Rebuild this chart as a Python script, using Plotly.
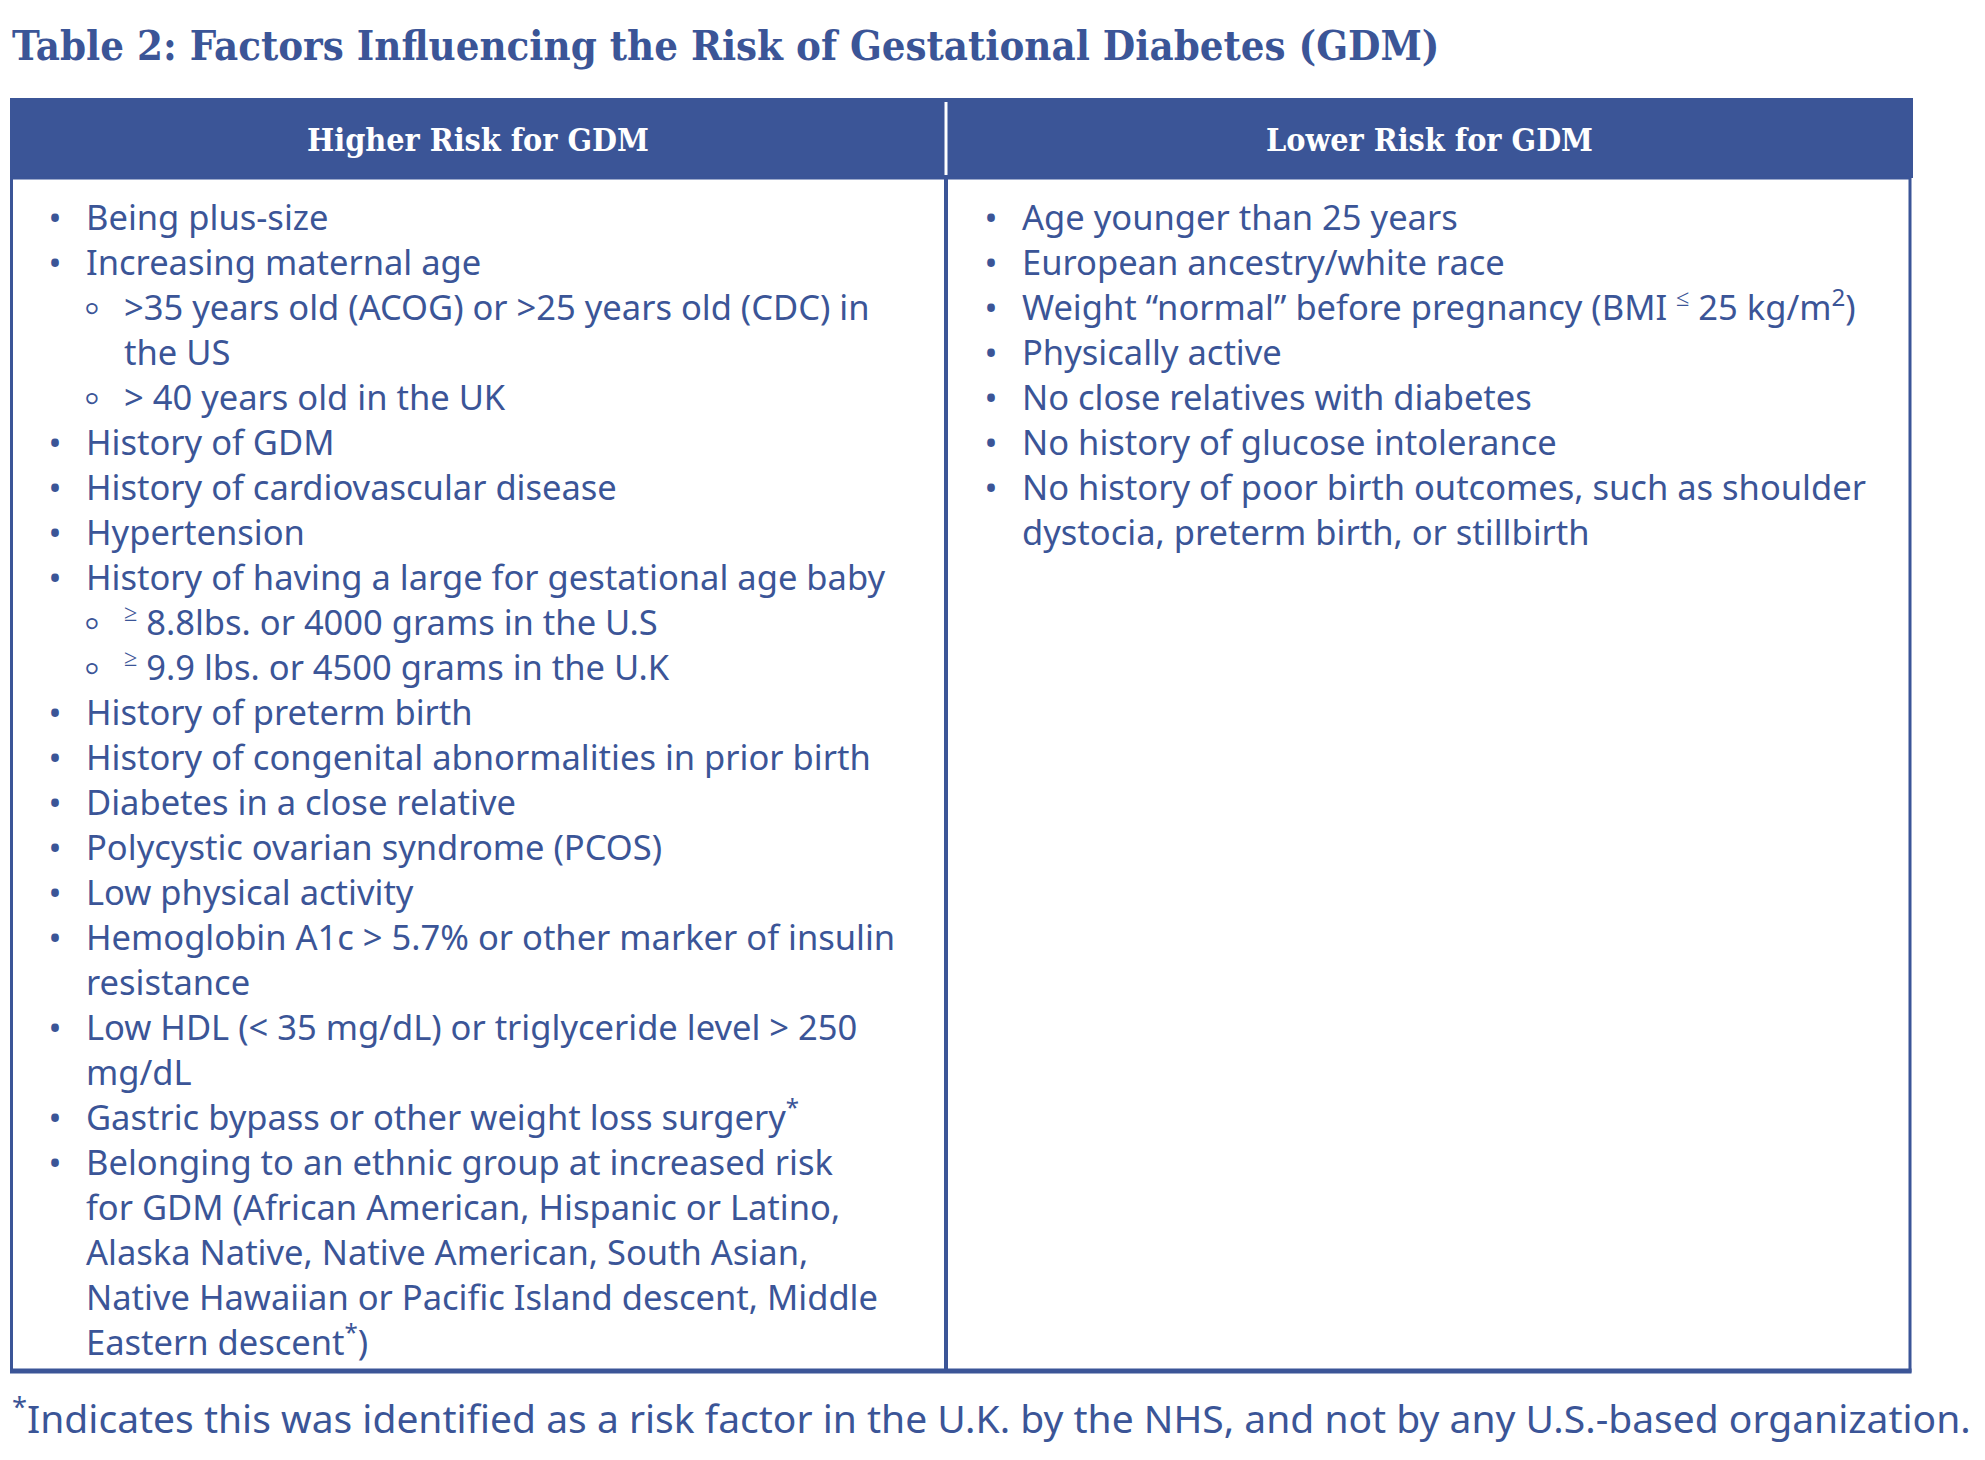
import plotly.graph_objects as go

BLUE = "#3b5597"
W, H = 1985, 1460
PAGE_OFFSET = 8  # browser body margin, so axis units equal screen pixels

TITLE = "Table 2: Factors Influencing the Risk of Gestational Diabetes (GDM)"
HEADERS = ["Higher Risk for GDM", "Lower Risk for GDM"]
FOOTNOTE = ("<sup>*</sup>Indicates this was identified as a risk factor in the U.K. "
            "by the NHS, and not by any U.S.-based organization.")

# (level, wrapped lines) - wrapping kept as in the printed table
HIGHER_RISK = [
    (1, ["Being plus-size"]),
    (1, ["Increasing maternal age"]),
    (2, [">35 years old (ACOG) or >25 years old (CDC) in", "the US"]),
    (2, ["> 40 years old in the UK"]),
    (1, ["History of GDM"]),
    (1, ["History of cardiovascular disease"]),
    (1, ["Hypertension"]),
    (1, ["History of having a large for gestational age baby"]),
    (2, ["<sup>≥</sup> 8.8lbs. or 4000 grams in the U.S"]),
    (2, ["<sup>≥</sup> 9.9 lbs. or 4500 grams in the U.K"]),
    (1, ["History of preterm birth"]),
    (1, ["History of congenital abnormalities in prior birth"]),
    (1, ["Diabetes in a close relative"]),
    (1, ["Polycystic ovarian syndrome (PCOS)"]),
    (1, ["Low physical activity"]),
    (1, ["Hemoglobin A1c > 5.7% or other marker of insulin", "resistance"]),
    (1, ["Low HDL (< 35 mg/dL) or triglyceride level > 250", "mg/dL"]),
    (1, ["Gastric bypass or other weight loss surgery<sup>*</sup>"]),
    (1, ["Belonging to an ethnic group at increased risk",
         "for GDM (African American, Hispanic or Latino,",
         "Alaska Native, Native American, South Asian,",
         "Native Hawaiian or Pacific Island descent, Middle",
         "Eastern descent<sup>*</sup>)"]),
]

LOWER_RISK = [
    (1, ["Age younger than 25 years"]),
    (1, ["European ancestry/white race"]),
    (1, ["Weight “normal” before pregnancy (BMI <sup>≤</sup> 25 kg/m<sup>2</sup>)"]),
    (1, ["Physically active"]),
    (1, ["No close relatives with diabetes"]),
    (1, ["No history of glucose intolerance"]),
    (1, ["No history of poor birth outcomes, such as shoulder",
         "dystocia, preterm birth, or stillbirth"]),
]

# layout (pixels)
TBL_L, TBL_R, TBL_T, HDR_B, TBL_B = 10, 1913, 98, 178, 1371
DIV_X = 946
ROW0, ROW_H = 221.5, 45.0
BODY_FONT = "Noto Sans"
SLAB_FONT = "DejaVu Serif Condensed"
BODY_SIZE = 34.5


def flatten(items):
    rows = []
    for level, lines in items:
        for k, line in enumerate(lines):
            rows.append((level, line, k == 0))
    return rows


def column_traces(items, x0):
    rows = flatten(items)
    bullet_x = {1: x0 + 45, 2: x0 + 82}
    bullet_sym = {1: "•", 2: "◦"}
    bullet_size = {1: BODY_SIZE, 2: BODY_SIZE + 12}
    text_x = {1: x0 + 76, 2: x0 + 114}
    ys = [ROW0 + i * ROW_H for i in range(len(rows))]
    bx, by, bt, bs = [], [], [], []
    for (level, _, first), y in zip(rows, ys):
        if first:
            bx.append(bullet_x[level])
            by.append(y)
            bt.append(bullet_sym[level])
            bs.append(bullet_size[level])
    bullets = go.Scatter(x=bx, y=by, text=bt, mode="text", textposition="middle center",
                         textfont=dict(family=BODY_FONT, size=bs, color=BLUE),
                         hoverinfo="skip", showlegend=False)
    texts = go.Scatter(x=[text_x[r[0]] for r in rows], y=ys, text=[r[1] for r in rows],
                       mode="text", textposition="middle right",
                       textfont=dict(family=BODY_FONT, size=BODY_SIZE, color=BLUE),
                       hoverinfo="skip", showlegend=False)
    return [bullets, texts]


fig = go.Figure()
for tr in column_traces(HIGHER_RISK, TBL_L) + column_traces(LOWER_RISK, DIV_X):
    fig.add_trace(tr)

shapes = [
    dict(type="rect", x0=TBL_L, x1=TBL_R, y0=TBL_T, y1=HDR_B, fillcolor=BLUE,
         line=dict(width=0), layer="below"),
    dict(type="rect", x0=TBL_L + 1.5, x1=TBL_R - 3, y0=HDR_B, y1=TBL_B,
         line=dict(color=BLUE, width=3)),
    dict(type="line", x0=TBL_L, x1=TBL_R - 1.5, y0=TBL_B, y1=TBL_B,
         line=dict(color=BLUE, width=5)),
    dict(type="line", x0=DIV_X, x1=DIV_X, y0=TBL_T + 4, y1=HDR_B - 3,
         line=dict(color="white", width=3)),
    dict(type="line", x0=DIV_X, x1=DIV_X, y0=HDR_B, y1=TBL_B,
         line=dict(color=BLUE, width=4)),
]

annotations = [
    dict(x=10, y=45, text=f"<b>{TITLE}</b>", showarrow=False, xanchor="left",
         yanchor="middle", font=dict(family=SLAB_FONT, size=41.5, color=BLUE)),
    dict(x=(TBL_L + DIV_X) / 2, y=(TBL_T + HDR_B) / 2 + 2, text=f"<b>{HEADERS[0]}</b>",
         showarrow=False, font=dict(family=SLAB_FONT, size=32, color="white")),
    dict(x=(DIV_X + TBL_R) / 2, y=(TBL_T + HDR_B) / 2 + 2, text=f"<b>{HEADERS[1]}</b>",
         showarrow=False, font=dict(family=SLAB_FONT, size=32, color="white")),
    dict(x=0.001, xref="paper", y=1416, text=FOOTNOTE, showarrow=False, xanchor="left",
         yanchor="middle", font=dict(family=BODY_FONT, size=39, color=BLUE)),
]

fig.update_layout(
    width=W, height=H,
    margin=dict(l=0, r=0, t=0, b=0),
    paper_bgcolor="white", plot_bgcolor="white",
    shapes=shapes, annotations=annotations,
    xaxis=dict(range=[PAGE_OFFSET, W + PAGE_OFFSET], visible=False, fixedrange=True),
    yaxis=dict(range=[H + PAGE_OFFSET, PAGE_OFFSET], visible=False, fixedrange=True),
)

fig.write_html("out.html")
